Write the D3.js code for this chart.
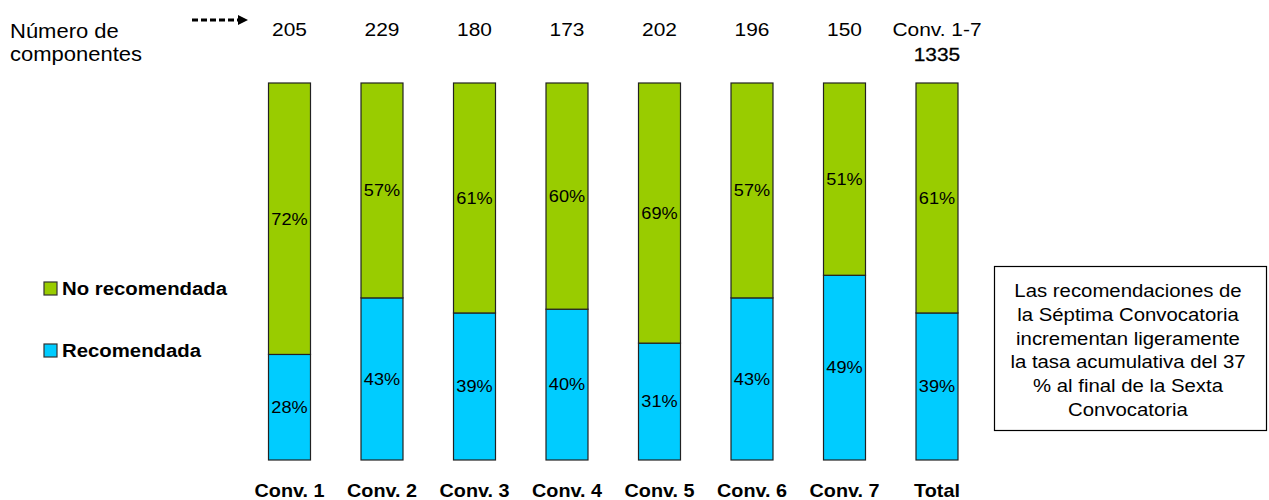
<!DOCTYPE html>
<html>
<head>
<meta charset="utf-8">
<script src="https://cdn.jsdelivr.net/npm/d3@7"></script>
<style>
  body { margin: 0; background: #fff; }
  svg text { font-family: "Liberation Sans", Arial, sans-serif; fill: #000; }
</style>
</head>
<body>
<svg id="chart"></svg>
<script>
var categories = ["Conv. 1", "Conv. 2", "Conv. 3", "Conv. 4", "Conv. 5", "Conv. 6", "Conv. 7", "Total"];
var recomendada = [28, 43, 39, 40, 31, 43, 49, 39];
var noRecomendada = [72, 57, 61, 60, 69, 57, 51, 61];
var componentes = ["205", "229", "180", "173", "202", "196", "150", "Conv. 1-7"];
var totalComponentes = "1335";
var seriesNames = ["No recomendada", "Recomendada"];
var noteLines = ["Las recomendaciones de", "la Séptima Convocatoria", "incrementan ligeramente",
                 "la tasa acumulativa del 37", "% al final de la Sexta", "Convocatoria"];

var width = 1269, height = 500;
var green = "#99cc00", blue = "#00ccff";
var sx = 1.1; // the original font renders a little wider than Liberation Sans

var svg = d3.select("#chart").attr("width", width).attr("height", height);

// places a text at (x,y) and stretches it sideways
function place(x, y) {
  return function(d, i) {
    var px = typeof x === "function" ? x(d, i) : x;
    var py = typeof y === "function" ? y(d, i) : y;
    return "translate(" + px + "," + py + ") scale(" + sx + ",1)";
  };
}

var x = d3.scaleBand()
    .domain(categories)
    .range([243.25, 983.25])
    .paddingInner(0.546)
    .paddingOuter(0.273);

var y = d3.scaleLinear()
    .domain([0, 100])
    .range([460, 83]);

var data = categories.map(function(c, i) {
  return { cat: c, rec: recomendada[i], no: noRecomendada[i] };
});

function mid(d) { return x(d.cat) + x.bandwidth() / 2; }

// blue part (bottom)
svg.selectAll(".rec")
  .data(data)
  .enter().append("rect")
    .attr("class", "rec")
    .attr("x", function(d) { return x(d.cat); })
    .attr("y", function(d) { return y(d.rec); })
    .attr("width", x.bandwidth())
    .attr("height", function(d) { return y(0) - y(d.rec); })
    .attr("fill", blue)
    .attr("stroke", "#222")
    .attr("stroke-width", 1.2);

// green part (top)
svg.selectAll(".no")
  .data(data)
  .enter().append("rect")
    .attr("class", "no")
    .attr("x", function(d) { return x(d.cat); })
    .attr("y", function(d) { return y(d.rec + d.no); })
    .attr("width", x.bandwidth())
    .attr("height", function(d) { return y(d.rec) - y(d.rec + d.no); })
    .attr("fill", green)
    .attr("stroke", "#222")
    .attr("stroke-width", 1.2);

// percent labels
svg.selectAll(".recLbl")
  .data(data)
  .enter().append("text")
    .attr("transform", place(mid, function(d) { return (y(0) + y(d.rec)) / 2; }))
    .attr("dy", "0.35em")
    .attr("text-anchor", "middle")
    .style("font-size", "16.5px")
    .text(function(d) { return d.rec + "%"; });

svg.selectAll(".noLbl")
  .data(data)
  .enter().append("text")
    .attr("transform", place(mid, function(d) { return (y(d.rec) + y(d.rec + d.no)) / 2; }))
    .attr("dy", "0.35em")
    .attr("text-anchor", "middle")
    .style("font-size", "16.5px")
    .text(function(d) { return d.no + "%"; });

// category labels at bottom
var xAxis = d3.axisBottom(x).tickSize(0).tickPadding(0);
var gx = svg.append("g")
    .attr("transform", "translate(0,484)")
    .call(xAxis);
gx.select(".domain").remove();
gx.selectAll("text")
    .attr("y", 0)
    .attr("dy", "0.72em")
    .attr("transform", "scale(" + sx + ",1)")
    .style("font-family", "'Liberation Sans', Arial, sans-serif")
    .style("font-size", "18px")
    .style("font-weight", "bold")
    .attr("fill", "#000");

// component counts at top
svg.selectAll(".count")
  .data(componentes)
  .enter().append("text")
    .attr("transform", place(function(d, i) { return x(categories[i]) + x.bandwidth() / 2; }, 36))
    .attr("text-anchor", "middle")
    .style("font-size", "19px")
    .text(function(d) { return d; });

svg.append("text")
    .attr("transform", place(x("Total") + x.bandwidth() / 2, 61))
    .attr("text-anchor", "middle")
    .style("font-size", "19px")
    .attr("stroke", "#000")
    .attr("stroke-width", 0.3)
    .text(totalComponentes);

svg.append("text")
    .attr("transform", place(10, 38))
    .style("font-size", "20px")
    .text("Número de");
svg.append("text")
    .attr("transform", place(10, 61))
    .style("font-size", "20px")
    .text("componentes");

// dashed arrow
svg.append("line")
    .attr("x1", 192).attr("y1", 20)
    .attr("x2", 240).attr("y2", 20)
    .attr("stroke", "#000")
    .attr("stroke-width", 3)
    .attr("stroke-dasharray", "6,3");
svg.append("path")
    .attr("d", "M238,15 L248,20 L238,25 Z")
    .attr("fill", "#000");

// legend
var legend = svg.selectAll(".legend")
  .data(seriesNames)
  .enter().append("g")
    .attr("transform", function(d, i) { return "translate(44," + (282 + i * 62) + ")"; });
legend.append("rect")
    .attr("width", 13).attr("height", 13)
    .attr("fill", function(d, i) { return i === 0 ? green : blue; })
    .attr("stroke", "#333")
    .attr("stroke-width", 1.2);
legend.append("text")
    .attr("transform", place(18, 13))
    .style("font-size", "18.5px")
    .style("font-weight", "bold")
    .text(function(d) { return d; });

// note box
svg.append("rect")
    .attr("x", 994.5).attr("y", 266.5)
    .attr("width", 272).attr("height", 164)
    .attr("fill", "#fff")
    .attr("stroke", "#000")
    .attr("stroke-width", 1.2);
svg.selectAll(".note")
  .data(noteLines)
  .enter().append("text")
    .attr("transform", place(1128, function(d, i) { return 297 + i * 23.8; }))
    .attr("text-anchor", "middle")
    .style("font-size", "18.5px")
    .text(function(d) { return d; });
</script>
</body>
</html>
